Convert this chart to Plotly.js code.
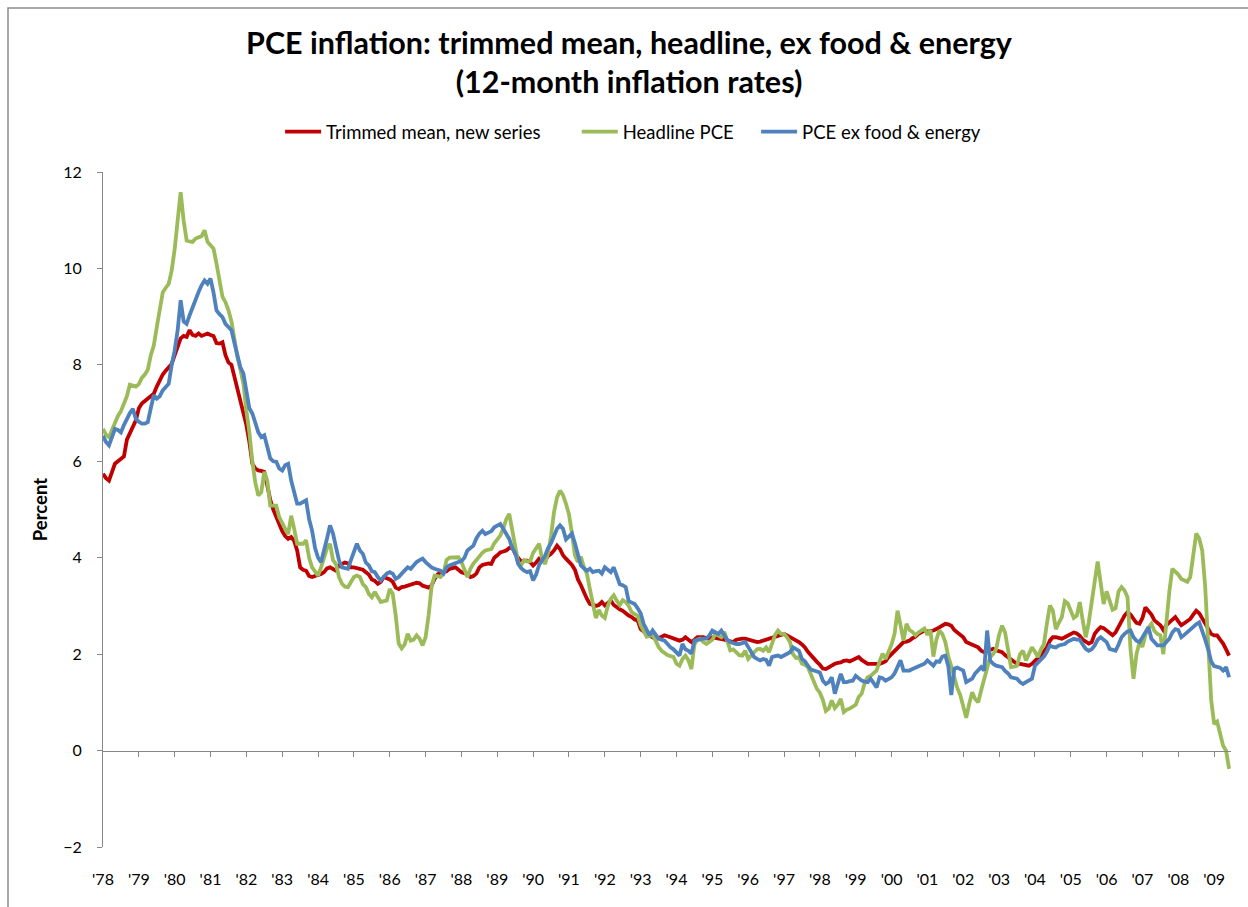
<!DOCTYPE html>
<html>
<head>
<meta charset="utf-8">
<script src="https://cdn.plot.ly/plotly-3.0.1.min.js"></script>
<style>
  html, body { margin: 0; padding: 0; background: #ffffff; }
  #chart { width: 1248px; height: 907px; }
</style>
</head>
<body>
<div id="chart"></div>
<script>
// Monthly 12-month inflation rates, Jan 1978 - Jun 2009 (one row per year)
const startYear = 1978;

const trimmedMean = [
  5.74, 5.65, 5.6, 5.75, 5.95, 6.0, 6.05, 6.1, 6.45, 6.6, 6.72, 6.85,
  7.1, 7.2, 7.25, 7.3, 7.35, 7.4, 7.55, 7.7, 7.8, 7.88, 7.95, 8.02,
  8.2, 8.4, 8.55, 8.6, 8.58, 8.72, 8.62, 8.6, 8.65, 8.6, 8.62, 8.65,
  8.62, 8.6, 8.45, 8.44, 8.47, 8.2, 8.05, 8.0, 7.75, 7.5, 7.3, 7.05,
  6.75, 6.4, 5.95, 5.85, 5.81, 5.8, 5.78, 5.5, 5.2, 5.0, 4.85, 4.65,
  4.55, 4.45, 4.39, 4.43, 4.35, 4.15, 3.8, 3.75, 3.73, 3.62, 3.6, 3.62,
  3.63, 3.66, 3.7, 3.78, 3.8, 3.76, 3.73, 3.84, 3.86, 3.9, 3.88, 3.8,
  3.8, 3.78, 3.77, 3.75, 3.7, 3.65, 3.55, 3.52, 3.46, 3.5, 3.6, 3.58,
  3.55, 3.5, 3.38, 3.35, 3.39, 3.4, 3.42, 3.44, 3.46, 3.48, 3.47, 3.42,
  3.4, 3.38, 3.42, 3.56, 3.65, 3.7, 3.7, 3.72, 3.77, 3.78, 3.8, 3.75,
  3.7, 3.68, 3.66, 3.6, 3.62, 3.67, 3.8, 3.85, 3.87, 3.88, 3.87, 4.0,
  4.05, 4.11, 4.13, 4.15, 4.2, 4.22, 4.08, 4.0, 3.92, 3.94, 3.94, 3.91,
  3.84, 3.9, 3.98, 3.95, 3.94, 4.04, 4.08, 4.15, 4.25, 4.18, 4.05, 3.98,
  3.92, 3.85, 3.75, 3.55, 3.43, 3.28, 3.15, 3.04, 3.01, 3.0, 3.02, 3.08,
  3.01, 3.05, 3.11, 3.02, 2.97, 2.93, 2.9, 2.84, 2.8, 2.77, 2.72, 2.7,
  2.52, 2.47, 2.42, 2.38, 2.35, 2.32, 2.33, 2.35, 2.39, 2.37, 2.35, 2.32,
  2.3, 2.28, 2.3, 2.35, 2.3, 2.25, 2.3, 2.35, 2.35, 2.35, 2.33, 2.32,
  2.35, 2.34, 2.33, 2.32, 2.3, 2.28, 2.27, 2.25, 2.3, 2.32, 2.32, 2.32,
  2.3, 2.28, 2.26, 2.25, 2.26, 2.28, 2.3, 2.32, 2.34, 2.36, 2.4, 2.42,
  2.42, 2.39, 2.36, 2.32, 2.28, 2.25, 2.2, 2.14, 2.05, 1.97, 1.9, 1.84,
  1.78, 1.7, 1.69, 1.73, 1.77, 1.8, 1.82, 1.83, 1.86, 1.87, 1.85, 1.88,
  1.9, 1.94, 1.88, 1.83, 1.8, 1.8, 1.8, 1.8, 1.8, 1.82, 1.85, 1.94,
  2.0, 2.07, 2.12, 2.18, 2.25, 2.26, 2.28, 2.33, 2.36, 2.42, 2.46, 2.49,
  2.47, 2.48, 2.49, 2.52, 2.56, 2.6, 2.63, 2.62, 2.59, 2.5, 2.45, 2.42,
  2.35, 2.25, 2.23, 2.21, 2.17, 2.14, 2.07, 2.04, 2.06, 2.08, 2.11, 2.08,
  2.06, 2.04, 1.98, 1.94, 1.88, 1.84, 1.8, 1.8, 1.78, 1.76, 1.76, 1.8,
  1.87, 1.92, 1.97, 2.05, 2.14, 2.28, 2.35, 2.35, 2.33, 2.32, 2.35, 2.38,
  2.42, 2.45, 2.43, 2.38, 2.3, 2.25, 2.22, 2.25, 2.42, 2.5, 2.56, 2.54,
  2.49, 2.45, 2.39, 2.45, 2.56, 2.7, 2.8, 2.87, 2.82, 2.73, 2.65, 2.63,
  2.75, 2.97, 2.9, 2.82, 2.7, 2.65, 2.6, 2.5, 2.6, 2.66, 2.72, 2.77,
  2.68, 2.6, 2.64, 2.68, 2.73, 2.82, 2.9, 2.85, 2.75, 2.62, 2.52, 2.42,
  2.39, 2.39, 2.3, 2.22, 2.1, 1.97
];

const headlinePCE = [
  6.67, 6.55, 6.5, 6.65, 6.8, 6.94, 7.04, 7.18, 7.35, 7.59, 7.57, 7.55,
  7.6, 7.73, 7.8, 7.9, 8.2, 8.4, 8.78, 9.12, 9.5, 9.6, 9.68, 9.96,
  10.4, 11.0, 11.58, 10.99, 10.58, 10.56, 10.55, 10.62, 10.65, 10.67, 10.79, 10.55,
  10.48, 10.41, 10.1, 9.79, 9.41, 9.3, 9.13, 8.9, 8.5, 8.16, 7.9, 7.61,
  7.05, 6.6, 6.0, 5.55, 5.29, 5.36, 5.78, 5.6, 5.08, 5.08, 5.08, 4.84,
  4.7, 4.6, 4.49, 4.87, 4.6, 4.29, 4.29, 4.29, 4.36, 4.0, 3.8, 3.7,
  3.63, 3.8, 4.01, 4.2, 4.29, 3.95, 3.87, 3.6, 3.46, 3.4, 3.39, 3.5,
  3.6, 3.63, 3.6, 3.45, 3.39, 3.25, 3.18, 3.29, 3.2, 3.08, 3.1, 3.11,
  3.35, 3.25, 2.8, 2.22, 2.12, 2.2, 2.42, 2.28, 2.3, 2.39, 2.32, 2.18,
  2.35, 2.8, 3.4, 3.63, 3.62, 3.6, 3.67, 3.95, 4.0, 4.01, 4.02, 4.01,
  3.91, 3.75, 3.6, 3.77, 3.88, 3.95, 4.04, 4.1, 4.15, 4.17, 4.18, 4.3,
  4.38, 4.46, 4.6, 4.8, 4.91, 4.56, 4.15, 3.9, 3.85, 3.95, 3.92, 3.93,
  4.1, 4.2, 4.29, 3.98, 3.87, 4.1, 4.45, 4.95, 5.25, 5.39, 5.3, 5.12,
  4.9, 4.5, 4.05, 3.91, 4.02, 3.8, 3.67, 3.35, 3.05, 2.75, 2.92, 2.8,
  2.75, 3.0, 3.15, 3.22, 3.11, 3.02, 3.12, 3.08, 3.0, 2.87, 2.83, 2.8,
  2.6, 2.48, 2.36, 2.38, 2.39, 2.28, 2.15, 2.07, 2.02, 1.98, 1.96, 1.94,
  1.8, 1.76, 1.9, 1.97, 1.87, 1.69, 2.2, 2.3, 2.32, 2.25, 2.21, 2.25,
  2.3, 2.42, 2.38, 2.35, 2.46, 2.28, 2.08, 2.1, 2.04, 1.98, 1.97, 2.07,
  1.9, 1.98, 2.04, 2.1, 2.11, 2.07, 2.14, 2.04, 2.25, 2.4, 2.49, 2.42,
  2.42, 2.35, 2.25, 2.0, 1.92, 1.94, 1.8, 1.78, 1.73, 1.58, 1.45, 1.28,
  1.2, 1.05, 0.82, 0.87, 1.04, 0.88, 0.95, 1.07, 0.8, 0.85, 0.87, 0.9,
  0.95, 1.11, 1.18, 1.4, 1.52, 1.55, 1.6, 1.66, 1.85, 2.01, 1.9, 2.05,
  2.2, 2.42, 2.9, 2.6, 2.28, 2.63, 2.5, 2.46, 2.39, 2.45, 2.49, 2.53,
  2.4, 2.5, 1.95, 2.3, 2.49, 2.42, 2.25, 1.95, 1.75, 1.5, 1.3, 1.15,
  0.9, 0.68, 0.97, 1.21, 1.07, 1.0, 1.25, 1.5, 1.7, 1.94, 2.0, 2.1,
  2.4, 2.59, 2.45, 2.04, 1.73, 1.74, 1.76, 2.0, 2.07, 1.87, 2.0, 2.14,
  2.05, 1.94, 2.1, 2.21, 2.63, 3.01, 2.9, 2.52, 2.65, 2.77, 3.1, 3.05,
  2.9, 2.75, 2.8, 3.08, 2.7, 2.35, 2.65, 3.02, 3.5, 3.92, 3.4, 3.04,
  3.3, 3.12, 2.92, 2.95, 3.3, 3.39, 3.32, 3.18, 2.1, 1.49, 2.0, 2.25,
  2.15, 2.4, 2.55, 2.63, 2.48, 2.42, 2.39, 2.0, 2.7, 3.3, 3.77, 3.72,
  3.65, 3.56, 3.52, 3.5, 3.6, 4.05, 4.5, 4.4, 4.15, 3.4, 2.25, 1.05,
  0.55, 0.6, 0.35, 0.1, 0.0, -0.38
];

const pceExFoodEnergy = [
  6.53, 6.4, 6.33, 6.5, 6.67, 6.65, 6.6, 6.75, 6.88, 7.0, 7.09, 6.88,
  6.82, 6.78, 6.78, 6.81, 7.1, 7.37, 7.3, 7.35, 7.47, 7.55, 7.61, 8.0,
  8.3, 8.72, 9.34, 8.9, 8.85, 9.03, 9.2, 9.35, 9.51, 9.65, 9.75, 9.68,
  9.79, 9.5, 9.13, 9.05, 8.99, 8.85, 8.78, 8.72, 8.45, 8.16, 7.95, 7.82,
  7.5, 7.1, 6.99, 6.8, 6.6, 6.5, 6.54, 6.3, 6.06, 6.0, 5.99, 5.85,
  5.81, 5.92, 5.95, 5.6, 5.35, 5.12, 5.12, 5.15, 5.19, 4.8, 4.56, 4.2,
  4.0, 3.91, 4.2, 4.4, 4.67, 4.5, 4.22, 3.95, 3.8, 3.78, 3.77, 3.95,
  4.15, 4.29, 4.15, 4.08, 3.9, 3.84, 3.72, 3.7, 3.6, 3.53, 3.6, 3.67,
  3.7, 3.67, 3.56, 3.6, 3.67, 3.75, 3.8, 3.77, 3.85, 3.91, 3.95, 3.98,
  3.91, 3.85, 3.8, 3.77, 3.75, 3.73, 3.67, 3.8, 3.84, 3.87, 3.88, 3.91,
  3.93, 4.0, 4.15, 4.2, 4.25, 4.4, 4.5, 4.56, 4.49, 4.52, 4.55, 4.63,
  4.66, 4.7, 4.6, 4.5, 4.39, 4.2, 4.1, 3.87, 3.78, 3.73, 3.7, 3.72,
  3.53, 3.65, 3.85, 3.95, 4.04, 4.2, 4.3, 4.45, 4.6, 4.67, 4.6, 4.38,
  4.45, 4.5, 4.3, 4.04, 3.84, 3.78, 3.73, 3.77, 3.7, 3.72, 3.73, 3.67,
  3.8, 3.75, 3.7, 3.8, 3.63, 3.45, 3.43, 3.39, 3.1, 3.08, 3.04, 2.95,
  2.85, 2.63, 2.5, 2.39, 2.49, 2.4, 2.32, 2.3, 2.28, 2.21, 2.14, 2.1,
  2.04, 1.97, 2.21, 2.1, 2.07, 2.01, 2.28, 2.3, 2.32, 2.32, 2.32, 2.39,
  2.49, 2.45, 2.42, 2.49, 2.39, 2.3, 2.25, 2.22, 2.21, 2.21, 2.23, 2.25,
  2.15, 2.04, 1.94, 1.9, 1.87, 1.9, 1.88, 1.76, 1.94, 1.96, 1.97, 1.94,
  1.97, 2.0, 2.04, 2.14, 2.1, 2.07, 1.9, 1.85, 1.76, 1.68, 1.66, 1.65,
  1.62, 1.45, 1.38, 1.42, 1.52, 1.18, 1.38, 1.59, 1.42, 1.42, 1.44, 1.45,
  1.55, 1.5, 1.45, 1.43, 1.42, 1.49, 1.4, 1.31, 1.52, 1.5, 1.45, 1.48,
  1.52, 1.6, 1.73, 1.87, 1.66, 1.66, 1.66, 1.69, 1.72, 1.76, 1.78, 1.8,
  1.87, 1.82, 1.76, 1.85, 1.84, 1.95, 1.97, 1.75, 1.15, 1.7, 1.72, 1.69,
  1.66, 1.42, 1.45, 1.49, 1.6, 1.66, 1.73, 1.66, 2.49, 1.87, 1.8, 1.76,
  1.75, 1.73, 1.65, 1.6, 1.52, 1.5, 1.49, 1.42, 1.38, 1.42, 1.45, 1.49,
  1.76, 1.82, 1.87, 1.95, 2.05, 2.18, 2.15, 2.14, 2.18, 2.2, 2.21, 2.26,
  2.28, 2.32, 2.3, 2.3, 2.2, 2.11, 2.07, 2.1, 2.18, 2.3, 2.35, 2.3,
  2.25, 2.11, 2.08, 2.07, 2.2, 2.35, 2.42, 2.47, 2.49, 2.35, 2.28, 2.25,
  2.35, 2.45, 2.56, 2.32, 2.25, 2.18, 2.18, 2.18, 2.25, 2.32, 2.45, 2.52,
  2.5, 2.35, 2.4, 2.46, 2.52, 2.56, 2.62, 2.66, 2.5, 2.3, 2.1, 1.85,
  1.75, 1.73, 1.72, 1.66, 1.73, 1.52
];

const seriesNames = ["Trimmed mean, new series", "Headline PCE", "PCE ex food & energy"];
const yearTicks = ["'78","'79","'80","'81","'82","'83","'84","'85","'86","'87","'88","'89","'90","'91","'92","'93","'94","'95","'96","'97","'98","'99","'00","'01","'02","'03","'04","'05","'06","'07","'08","'09"];

// x position of each monthly observation (decimal year)
const months = trimmedMean.map((_, i) => startYear + i / 12);
const tickYears = yearTicks.map((_, i) => startYear + i);

const FONT = "Lato, 'Open Sans', sans-serif";
const xRange = [startYear, startYear + 31.47];

const traces = [
  { x: months, y: trimmedMean, name: seriesNames[0], type: "scatter", mode: "lines",
    line: { color: "#C00000", width: 3.8 }, xaxis: "x", yaxis: "y", legend: "legend" },
  { x: months, y: headlinePCE, name: seriesNames[1], type: "scatter", mode: "lines",
    line: { color: "#9BBB59", width: 3.8 }, xaxis: "x", yaxis: "y", legend: "legend2" },
  { x: months, y: pceExFoodEnergy, name: seriesNames[2], type: "scatter", mode: "lines",
    line: { color: "#4F81BD", width: 3.8 }, xaxis: "x2", yaxis: "y", legend: "legend3" }
];

function legendAt(xPaper) {
  return {
    orientation: "h", x: xPaper, xanchor: "left", y: 1.059, yanchor: "middle",
    font: { family: FONT, size: 18.5, color: "#000000" },
    itemwidth: 36, bgcolor: "rgba(0,0,0,0)", borderwidth: 0
  };
}

const layout = {
  width: 1248, height: 907,
  margin: { l: 103, r: 17, t: 172, b: 60 },
  paper_bgcolor: "#ffffff", plot_bgcolor: "#ffffff",
  font: { family: FONT, color: "#000000" },
  showlegend: true,
  title: {
    text: "PCE inflation: trimmed mean, headline, ex food & energy<br>(12-month inflation rates)",
    font: { family: FONT, size: 30.5, weight: 700, color: "#000000" },
    xref: "container", x: 0.504, xanchor: "center",
    yref: "container", y: 0.941, yanchor: "top"
  },
  legend: legendAt(0.157),
  legend2: legendAt(0.420),
  legend3: legendAt(0.579),
  xaxis: {
    range: xRange, fixedrange: true,
    tickmode: "array", tickvals: tickYears, ticktext: yearTicks,
    showline: false, ticks: "", showgrid: false, zeroline: false,
    tickfont: { family: FONT, size: 16, color: "#000000" },
    ticklabelstandoff: 21
  },
  xaxis2: {
    range: xRange, fixedrange: true, overlaying: "x", anchor: "free",
    position: 2 / 14, side: "bottom",
    tickmode: "array", tickvals: tickYears.slice(1),
    showticklabels: false, ticks: "outside", ticklen: 5, tickwidth: 1, tickcolor: "#868686",
    showline: true, linecolor: "#868686", linewidth: 1,
    showgrid: false, zeroline: false
  },
  yaxis: {
    range: [-2, 12], dtick: 2, tick0: 0, fixedrange: true,
    showline: true, linecolor: "#868686", linewidth: 1,
    ticks: "outside", ticklen: 5, tickwidth: 1, tickcolor: "#868686",
    showgrid: false, zeroline: false,
    tickfont: { family: FONT, size: 16, color: "#000000" },
    ticklabelstandoff: 12,
    title: { text: "Percent", font: { family: FONT, size: 18.5, weight: 700, color: "#000000" }, standoff: 10 }
  },
  shapes: [
    { type: "rect", xref: "paper", yref: "paper",
      x0: (8 - 103) / 1128, x1: 1.2, y0: -0.3, y1: (847 - 8) / 675,
      line: { color: "#8c8c8c", width: 1.5 }, fillcolor: "rgba(0,0,0,0)", layer: "below" }
  ]
};

Plotly.newPlot("chart", traces, layout, { displayModeBar: false, staticPlot: true });
</script>
</body>
</html>
